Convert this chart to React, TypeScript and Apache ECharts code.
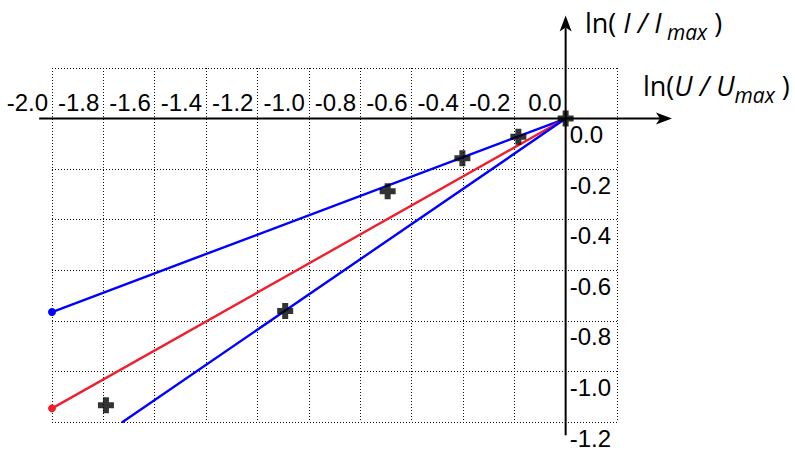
import React, { useEffect, useRef } from 'react';
import * as echarts from 'echarts';

// Axis ranges and tick step
const xRange = [-2.0, 0.2];
const yRange = [-1.2, 0.2];
const tickStep = 0.2;
// Extent of the drawn axis arrows (data units)
const xAxisLineRange = [-2.05, 0.414];
const yAxisLineRange = [-1.252, 0.408];

// Fitted lines (origin -> end point)
const upperLineX = [0, -2.0];
const upperLineY = [0, -0.765];
const middleLineX = [0, -2.0];
const middleLineY = [0, -1.146];
const lowerLineX = [0, -1.728];
const lowerLineY = [0, -1.202];

// Measured points
const measuredX = [0, -0.184, -0.402, -0.693, -1.092, -1.79];
const measuredY = [0, -0.072, -0.157, -0.287, -0.761, -1.134];

const BLUE = '#0000ff';
const RED = '#ee2030';
const TICK_FONT = '"Liberation Sans", Arial, sans-serif';
const TITLE_FONT = '"Open Sans", "DejaVu Sans", sans-serif';

const PLUS = 'path://M5,0 H11 V5 H16 V11 H11 V16 H5 V11 H0 V5 H5 Z';

const GRID = { left: 52, right: 178, top: 68, bottom: 22 };

function lineData(xs: number[], ys: number[]) {
  return xs.map((x, i) => ({
    value: [x, ys[i]],
    symbol: i === xs.length - 1 ? 'circle' : 'none',
  }));
}

function fmt(v: number) {
  if (v > 0.1) return '';
  const s = v.toFixed(1);
  return s === '-0.0' ? '0.0' : s;
}

export default function App() {
  const ref = useRef<HTMLDivElement>(null);
  useEffect(() => {
    if (!ref.current) return;
    const chart = echarts.init(ref.current, undefined, { renderer: 'svg' });
    const splitStyle = { color: '#111', width: 1, type: [1, 2] as number[] };
    const hiddenAxisLine = { show: false, onZero: false };
    const lineSeries = (name: string, xs: number[], ys: number[], color: string) => ({
      name,
      type: 'line',
      data: lineData(xs, ys),
      symbolSize: 8,
      showAllSymbol: true,
      lineStyle: { color, width: 2.4 },
      itemStyle: { color },
      z: 3,
      silent: true,
    });
    chart.setOption({
      animation: false,
      backgroundColor: '#ffffff',
      grid: { ...GRID, containLabel: false },
      xAxis: {
        type: 'value',
        min: xRange[0],
        max: xRange[1],
        interval: tickStep,
        position: 'top',
        offset: 0,
        axisLine: hiddenAxisLine,
        axisTick: { show: false },
        splitLine: { show: true, lineStyle: splitStyle },
        axisLabel: {
          formatter: fmt,
          color: '#000',
          fontSize: 24,
          fontFamily: TICK_FONT,
          align: 'right',
          padding: [0, 4, 0, 0],
          margin: 4,
          showMinLabel: true,
          showMaxLabel: true,
        },
      },
      yAxis: {
        type: 'value',
        min: yRange[0],
        max: yRange[1],
        interval: tickStep,
        position: 'right',
        offset: 0,
        axisLine: hiddenAxisLine,
        axisTick: { show: false },
        splitLine: { show: true, lineStyle: splitStyle },
        axisLabel: {
          formatter: fmt,
          color: '#000',
          fontSize: 24,
          fontFamily: TICK_FONT,
          align: 'left',
          verticalAlign: 'top',
          padding: [4, 0, 0, 0],
          margin: 4,
          showMinLabel: true,
          showMaxLabel: true,
        },
      },
      series: [
        lineSeries('upper', upperLineX, upperLineY, BLUE),
        lineSeries('middle', middleLineX, middleLineY, RED),
        lineSeries('lower', lowerLineX, lowerLineY, BLUE),
        {
          name: 'measured',
          type: 'scatter',
          data: measuredX.map((x, i) => [x, measuredY[i]]),
          symbol: PLUS,
          symbolSize: 16,
          itemStyle: { color: '#000' },
          z: 5,
          silent: true,
        },
      ],
    });

    const px = (p: number[]) => chart.convertToPixel({ gridIndex: 0 }, p) as number[];
    const o = px([0, 0]);
    const topRight = px([xRange[1], yRange[1]]);
    const xl = px([xAxisLineRange[0], 0]);
    const xr = px([xAxisLineRange[1], 0]);
    const yb = px([0, yAxisLineRange[0]]);
    const yt = px([0, yAxisLineRange[1]]);
    const AL = 16, AW = 6, AN = 12;
    const titleRich = {
      n: { fontSize: 27, fontFamily: TITLE_FONT, fill: '#000', verticalAlign: 'bottom', padding: [0, 0, 6, 0] },
      i: { fontSize: 27, fontFamily: TITLE_FONT, fontStyle: 'italic', fill: '#000', verticalAlign: 'bottom', padding: [0, 0, 6, 0] },
      s: { fontSize: 21, fontFamily: TITLE_FONT, fontStyle: 'italic', fill: '#000', verticalAlign: 'bottom' },
    };
    chart.setOption({
      // move the tick labels onto the zero lines (axes cross at the origin)
      xAxis: { offset: -(o[1] - topRight[1]) },
      yAxis: { offset: -(topRight[0] - o[0]) },
      graphic: [
        {
          type: 'line', z: 4, silent: true,
          shape: { x1: xl[0], y1: o[1], x2: xr[0] - AN, y2: o[1] },
          style: { stroke: '#000', lineWidth: 2 },
        },
        {
          type: 'polygon', z: 4, silent: true,
          shape: { points: [[xr[0], o[1]], [xr[0] - AL, o[1] - AW], [xr[0] - AN, o[1]], [xr[0] - AL, o[1] + AW]] },
          style: { fill: '#000' },
        },
        {
          type: 'line', z: 4, silent: true,
          shape: { x1: o[0], y1: yb[1], x2: o[0], y2: yt[1] + AN },
          style: { stroke: '#000', lineWidth: 2 },
        },
        {
          type: 'polygon', z: 4, silent: true,
          shape: { points: [[o[0], yt[1]], [o[0] - AW, yt[1] + AL], [o[0], yt[1] + AN], [o[0] + AW, yt[1] + AL]] },
          style: { fill: '#000' },
        },
        {
          type: 'text', z: 6, silent: true,
          x: 585, y: 9,
          style: { text: '{n|ln( }{i|I / I}{s| max}{n| )}', rich: titleRich },
        },
        {
          type: 'text', z: 6, silent: true,
          x: 643, y: 72,
          style: { text: '{n|ln(}{i|U / U}{s|max}{n| )}', rich: titleRich },
        },
      ],
    });
    return () => chart.dispose();
  }, []);
  return (
    <div
      ref={ref}
      style={{ position: 'fixed', left: 0, top: 0, width: 795, height: 450, background: '#fff' }}
    />
  );
}
